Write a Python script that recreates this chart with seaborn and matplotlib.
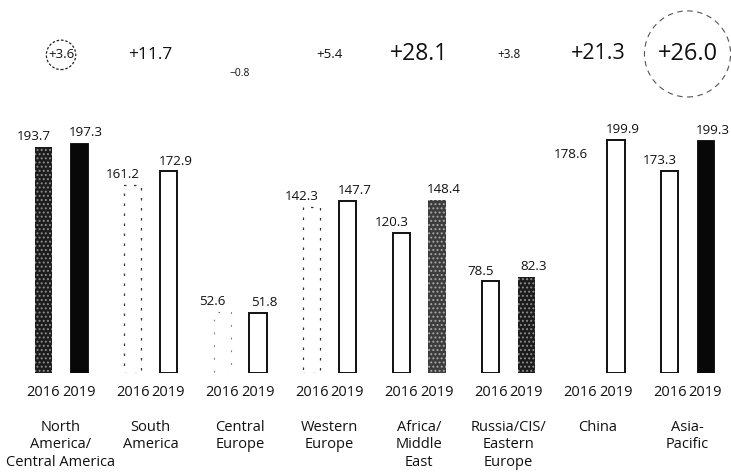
import matplotlib
matplotlib.use("Agg")
import matplotlib.pyplot as plt
from matplotlib.transforms import blended_transform_factory
import pandas as pd
import seaborn as sns

# Sales by region, 2016 vs 2019
regions = [
    "North\nAmerica/\nCentral America",
    "South\nAmerica",
    "Central\nEurope",
    "Western\nEurope",
    "Africa/\nMiddle\nEast",
    "Russia/CIS/\nEastern\nEurope",
    "China",
    "Asia-\nPacific",
]
years = ["2016", "2019"]
sales_2016 = [193.7, 161.2, 52.6, 142.3, 120.3, 78.5, 178.6, 173.3]
sales_2019 = [197.3, 172.9, 51.8, 147.7, 148.4, 82.3, 199.9, 199.3]
change_labels = ["+3.6", "+11.7", "\u22120.8", "+5.4", "+28.1", "+3.8", "+21.3", "+26.0"]

# styling of the change figures above each pair
change_sizes = [9.5, 12.5, 7.5, 9.5, 16.5, 8.5, 15.5, 17]
change_y = [0.884, 0.884, 0.845, 0.884, 0.886, 0.884, 0.886, 0.886]

# fill style for each bar
styles_2016 = ["speckle_dark", "dashed", "faint", "dashed", "outline", "outline", "none", "outline"]
styles_2019 = ["black", "outline", "outline", "outline", "speckle_mid", "speckle_dark", "outline", "black"]

df = pd.DataFrame({
    "region": regions * 2,
    "year": [years[0]] * len(regions) + [years[1]] * len(regions),
    "value": sales_2016 + sales_2019,
})

sns.set_theme(style="white")
plt.rcParams["font.family"] = ["Open Sans", "DejaVu Sans"]
plt.rcParams["hatch.linewidth"] = 0.9

fig = plt.figure(figsize=(7.31, 4.73), dpi=100)
ax = fig.add_axes([0, 100 / 473, 1, 373 / 473])

sns.barplot(
    data=df, x="region", y="value", hue="year",
    order=regions, hue_order=years,
    width=0.8, gap=0.52, errorbar=None, legend=False,
    palette=["#ffffff", "#ffffff"], saturation=1, ax=ax,
)


def style_bar(p, kind):
    p.set_hatch(None)
    p.set_linestyle("-")
    if kind == "black":
        p.set_facecolor("#080808"); p.set_edgecolor("#080808"); p.set_linewidth(0.6)
    elif kind == "speckle_dark":
        p.set_facecolor("#1c1c1c"); p.set_edgecolor("#8c8c8c"); p.set_linewidth(0)
        p.set_hatch("....")
    elif kind == "speckle_mid":
        p.set_facecolor("#3c3c3c"); p.set_edgecolor("#a8a8a8"); p.set_linewidth(0)
        p.set_hatch("....")
    elif kind == "outline":
        p.set_facecolor("white"); p.set_edgecolor("#111111"); p.set_linewidth(1.4)
    elif kind == "dashed":
        p.set_facecolor("white"); p.set_edgecolor("#333333"); p.set_linewidth(0.9)
        p.set_linestyle((0, (2, 6)))
    elif kind == "faint":
        p.set_facecolor("white"); p.set_edgecolor("#777777"); p.set_linewidth(0.8)
        p.set_linestyle((0, (1.5, 10)))
    else:
        p.set_facecolor("none"); p.set_edgecolor("none")


for container, styles, dx in ((ax.containers[0], styles_2016, -7), (ax.containers[1], styles_2019, 5)):
    for p, kind in zip(container.patches, styles):
        style_bar(p, kind)
        ax.annotate(
            f"{p.get_height():.1f}",
            (p.get_x() + p.get_width() / 2, p.get_height()),
            xytext=(dx, 2.5), textcoords="offset points",
            ha="center", va="bottom", fontsize=9.6, color="#111111",
        )

ax.set_xlim(-0.682, 7.486)
ax.set_ylim(0, 373 / 1.167)

ticks = [i + off for i in range(len(regions)) for off in (-0.2, 0.2)]
ax.set_xticks(ticks, years * len(regions))
ax.tick_params(axis="x", length=0, pad=8.5, labelsize=10.5, colors="#111111")
ax.set_yticks([])
ax.set_xlabel("")
ax.set_ylabel("")
for s in ax.spines.values():
    s.set_visible(False)

trans = blended_transform_factory(ax.transData, fig.transFigure)
for i, name in enumerate(regions):
    ax.text(i, 0.113, name, transform=trans, ha="center", va="top",
            fontsize=10.5, linespacing=1.25, color="#111111")

for i, (lab, fs, y) in enumerate(zip(change_labels, change_sizes, change_y)):
    bbox = None
    if i == 0:
        bbox = dict(boxstyle="circle,pad=0.12", fc="none", ec="#222222", lw=0.9, ls=(0, (2, 1.5)))
    elif i == len(change_labels) - 1:
        bbox = dict(boxstyle="circle,pad=0.55", fc="none", ec="#555555", lw=0.8, ls=(0, (5, 4)))
    ax.text(i, y, lab, transform=trans, ha="center", va="center",
            fontsize=fs, color="#111111", bbox=bbox)

fig.savefig("out.png", dpi=100, facecolor="white")
